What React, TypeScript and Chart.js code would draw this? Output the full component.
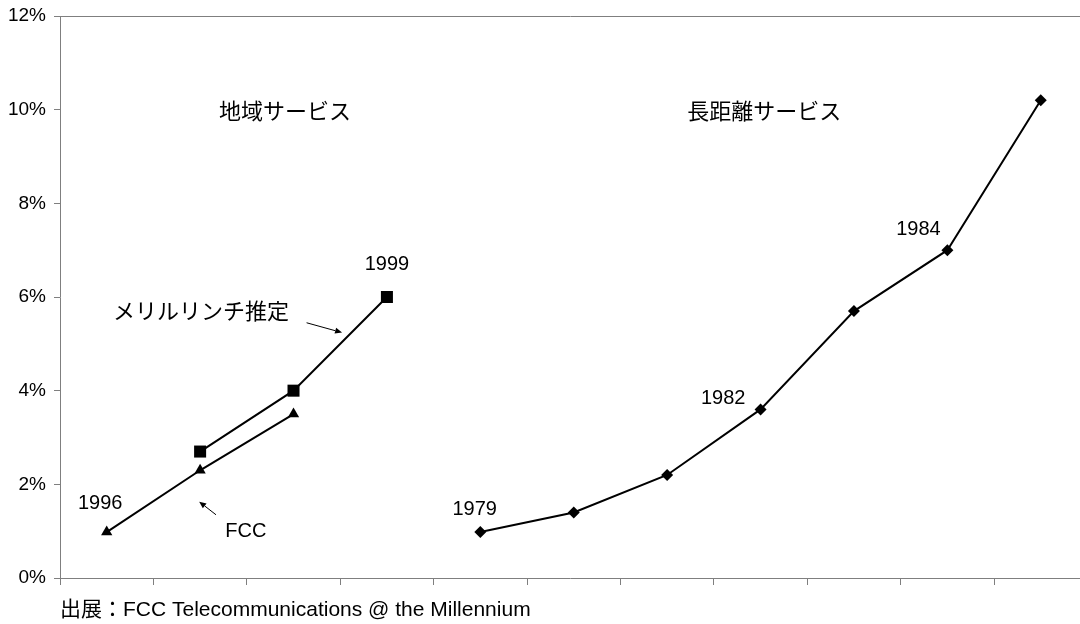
import { useEffect, useRef } from 'react';
import { Chart, registerables } from 'chart.js';

Chart.register(...registerables);

// Categories (x positions 0..10): local service years, then long-distance years
const categories = ['1996', '1997', '1998', '1999', '1979', '1980', '1981', '1982', '1983', '1984', '1985'];

// FCC (local service)
const fccYears = ['1996', '1997', '1998'];
const fccValues = [0.98, 2.3, 3.5];

// Merrill Lynch estimate (local service)
const merrillYears = ['1997', '1998', '1999'];
const merrillValues = [2.7, 4.0, 6.0];

// Long-distance service
const longYears = ['1979', '1980', '1981', '1982', '1983', '1984', '1985'];
const longValues = [0.98, 1.4, 2.2, 3.6, 5.7, 7.0, 10.2];

const yTickValues = [0, 2, 4, 6, 8, 10, 12];
const xTickBoundaries = [-0.5, 0.5, 1.5, 2.5, 3.5, 4.5, 5.5, 6.5, 7.5, 8.5, 9.5];

const FONT_LATIN = "'Liberation Sans', Arial, 'Noto Sans CJK JP', sans-serif";

// text annotations in data coordinates (x = category index, y = percent)
const labelTexts = ['地域サービス', '長距離サービス', '1999', 'メリルリンチ推定', '1996', 'FCC', '1979', '1982', '1984'];
const labelX = [1.91, 7.04, 3.0, 1.01, -0.07, 1.49, 3.94, 6.6, 8.69];
const labelY = [9.93, 9.93, 6.7, 5.67, 1.6, 1.0, 1.47, 3.84, 7.44];
const labelSize = [22, 22, 20, 22, 20, 20, 20, 20, 20];

// arrows: [fromX, fromY, toX, toY]
const arrowFromX = [2.14, 1.17];
const arrowFromY = [5.45, 1.35];
const arrowToX = [2.52, 0.99];
const arrowToY = [5.24, 1.63];

const idx = (year: string) => categories.indexOf(year);

const zeroPad = (scale: any) => {
  scale.paddingTop = 0;
  scale.paddingBottom = 0;
  scale.paddingLeft = 0;
  scale.paddingRight = 0;
};

const annotationPlugin = {
  id: 'annotations',
  afterDatasetsDraw(chart: any) {
    const { ctx, scales } = chart;
    const xs = scales.x;
    const ys = scales.y;
    ctx.save();
    ctx.fillStyle = '#000';
    ctx.textAlign = 'center';
    ctx.textBaseline = 'middle';
    labelTexts.forEach((t, i) => {
      ctx.font = `${labelSize[i]}px ${FONT_LATIN}`;
      ctx.fillText(t, xs.getPixelForValue(labelX[i]), ys.getPixelForValue(labelY[i]));
    });
    ctx.strokeStyle = '#000';
    ctx.lineWidth = 1;
    arrowFromX.forEach((_, i) => {
      const x1 = xs.getPixelForValue(arrowFromX[i]);
      const y1 = ys.getPixelForValue(arrowFromY[i]);
      const x2 = xs.getPixelForValue(arrowToX[i]);
      const y2 = ys.getPixelForValue(arrowToY[i]);
      const ang = Math.atan2(y2 - y1, x2 - x1);
      const hl = 7;
      const hw = 3;
      const bx = x2 - Math.cos(ang) * hl;
      const by = y2 - Math.sin(ang) * hl;
      ctx.beginPath();
      ctx.moveTo(x1, y1);
      ctx.lineTo(bx, by);
      ctx.stroke();
      ctx.beginPath();
      ctx.moveTo(x2, y2);
      ctx.lineTo(bx - Math.sin(ang) * hw, by + Math.cos(ang) * hw);
      ctx.lineTo(bx + Math.sin(ang) * hw, by - Math.cos(ang) * hw);
      ctx.closePath();
      ctx.fill();
    });
    ctx.restore();
  },
};

export default function App() {
  const ref = useRef<HTMLCanvasElement | null>(null);

  useEffect(() => {
    if (!ref.current) return;
    const chart = new Chart(ref.current, {
      type: 'line',
      data: {
        datasets: [
          {
            label: 'FCC',
            data: fccYears.map((y, i) => ({ x: idx(y), y: fccValues[i] })),
            borderColor: '#000',
            backgroundColor: '#000',
            borderWidth: 2,
            pointStyle: 'triangle',
            pointRadius: 6.5,
            pointBorderWidth: 0,
            pointBackgroundColor: '#000',
          },
          {
            label: 'メリルリンチ推定',
            data: merrillYears.map((y, i) => ({ x: idx(y), y: merrillValues[i] })),
            borderColor: '#000',
            backgroundColor: '#000',
            borderWidth: 2,
            pointStyle: 'rect',
            pointRadius: 8.5,
            pointBorderWidth: 0,
            pointBackgroundColor: '#000',
          },
          {
            label: '長距離サービス',
            data: longYears.map((y, i) => ({ x: idx(y), y: longValues[i] })),
            borderColor: '#000',
            backgroundColor: '#000',
            borderWidth: 2,
            pointStyle: 'rectRot',
            pointRadius: 6,
            pointBorderWidth: 0,
            pointBackgroundColor: '#000',
          },
        ],
      },
      options: {
        animation: false,
        responsive: false,
        devicePixelRatio: 1,
        layout: { autoPadding: false, padding: { top: 16, right: 0, left: 0, bottom: 0 } },
        plugins: {
          legend: { display: false },
          tooltip: { enabled: false },
        },
        scales: {
          x: {
            type: 'linear',
            min: -0.5,
            max: 10.42,
            afterBuildTicks: (scale: any) => {
              scale.ticks = xTickBoundaries.map((v) => ({ value: v }));
            },
            afterFit: (scale: any) => {
              scale.height = 46;
              zeroPad(scale);
            },
            ticks: { callback: () => '', autoSkip: false },
            grid: {
              drawOnChartArea: false,
              drawTicks: true,
              tickLength: 7,
              color: '#7f7f7f',
              tickColor: '#7f7f7f',
            },
            border: { color: '#7f7f7f', width: 1 },
          },
          y: {
            min: 0,
            max: 12,
            afterBuildTicks: (scale: any) => {
              scale.ticks = yTickValues.map((v) => ({ value: v }));
            },
            afterFit: (scale: any) => {
              scale.width = 60;
              zeroPad(scale);
            },
            ticks: {
              callback: (v: any) => `${v}%`,
              color: '#000',
              padding: 8,
              font: { family: FONT_LATIN, size: 19 },
            },
            grid: {
              drawOnChartArea: true,
              tickLength: 6,
              color: (c: any) => (c.tick && c.tick.value === 12 ? '#7f7f7f' : 'rgba(0,0,0,0)'),
              tickColor: '#7f7f7f',
            },
            border: { color: '#7f7f7f', width: 1 },
          },
        },
      },
      plugins: [
        annotationPlugin,
        {
          id: 'footer',
          afterDraw(c: any) {
            const ctx = c.ctx;
            ctx.save();
            ctx.fillStyle = '#000';
            ctx.font = `21px ${FONT_LATIN}`;
            ctx.textAlign = 'left';
            ctx.textBaseline = 'middle';
            ctx.fillText('出展：FCC Telecommunications @ the Millennium', 60, 610);
            ctx.restore();
          },
        },
      ],
    } as any);
    return () => chart.destroy();
  }, []);

  return (
    <div style={{ position: 'fixed', left: 0, top: 0, width: 1080, height: 624, background: '#fff' }}>
      <canvas ref={ref} width={1080} height={624} style={{ width: 1080, height: 624 }} />
    </div>
  );
}
